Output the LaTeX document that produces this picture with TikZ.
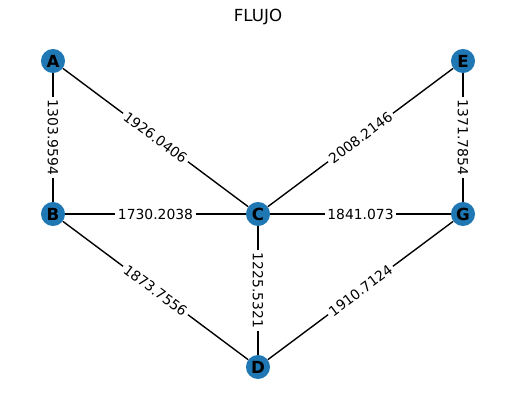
\documentclass[tikz,border=0pt]{standalone}
\usepackage{fontspec}
\setmainfont{DejaVu Sans}
\usetikzlibrary{positioning,calc}
\definecolor{nodeblue}{RGB}{31,119,180}
\tikzset{
  vertex/.style={circle,fill=nodeblue,minimum size=17.3pt,inner sep=0pt,
    font=\fontsize{12}{14}\selectfont\bfseries,text=black},
  edge/.style={line width=1pt,black},
  weight/.style={midway,sloped,fill=white,inner sep=2pt,
    font=\fontsize{10}{12}\selectfont}
}
\begin{document}
\begin{tikzpicture}[x=0.72pt,y=-0.72pt]
\useasboundingbox (0,0) rectangle (515,409);
% draw title
\node (title) at (258,17) {\fontsize{12}{14}\selectfont FLUJO};
% draw nodes
\node[vertex] (A) at (53,61) {A};
\node[vertex] (E) at (463,61) {E};
\node[vertex] (B) at (53,214) {B};
\node[vertex] (C) at (258,214) {C};
\node[vertex] (G) at (463,214) {G};
\node[vertex] (D) at (258,367) {D};
% draw edges
\draw[edge] (A) -- (B) node[weight] {1303.9594};
\draw[edge] (A) -- (C) node[weight] {1926.0406};
\draw[edge] (E) -- (C) node[weight] {2008.2146};
\draw[edge] (E) -- (G) node[weight] {1371.7854};
\draw[edge] (B) -- (C) node[weight] {1730.2038};
\draw[edge] (C) -- (G) node[weight] {1841.073};
\draw[edge] (B) -- (D) node[weight] {1873.7556};
\draw[edge] (C) -- (D) node[weight] {1225.5321};
\draw[edge] (D) -- (G) node[weight] {1910.7124};
\end{tikzpicture}
\end{document}
